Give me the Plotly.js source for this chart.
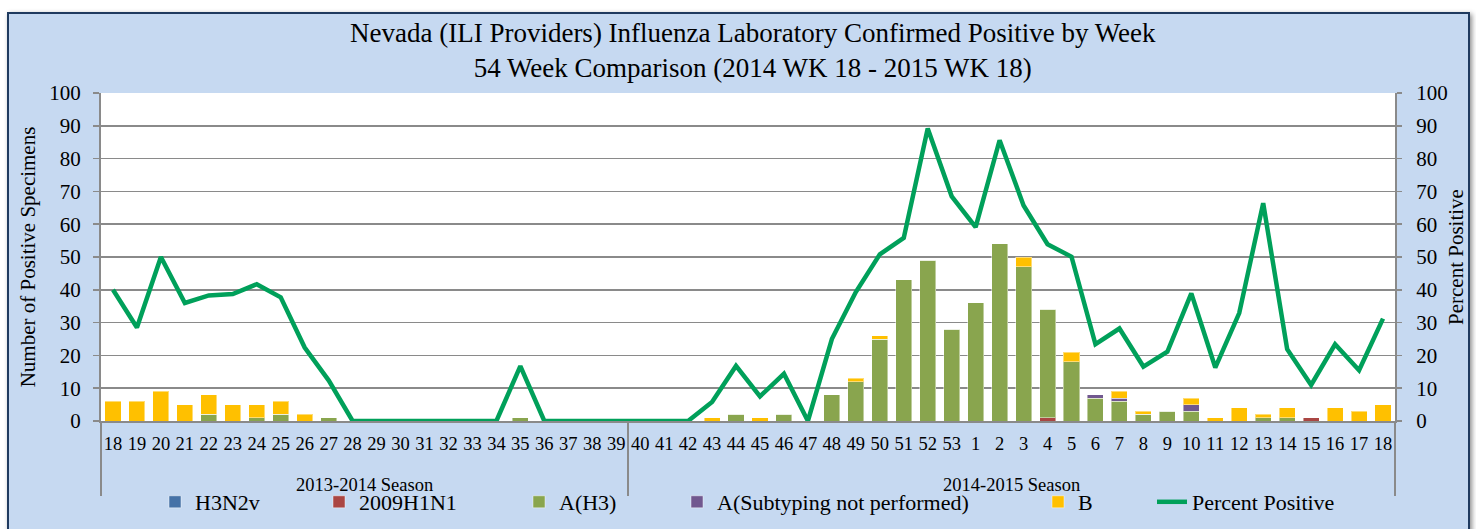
<!DOCTYPE html>
<html>
<head>
<meta charset="utf-8">
<script src="https://cdn.plot.ly/plotly-3.0.1.min.js"></script>
<style>
  html, body { margin: 0; padding: 0; background: #ffffff; overflow: hidden; }
  #frame { position: absolute; left: 7px; top: 12px; width: 1459px; height: 540px;
           background: #C6D9F1; border: 2px solid #1F3A5F;
           box-shadow: 2px 2px 5px rgba(0,0,0,0.45); }
  #chart { position: absolute; left: 0; top: 0; width: 1476px; height: 529px; }
</style>
</head>
<body>
<div id="frame"></div>
<div id="chart"></div>
<script>
// ---- data ----
const seasonLabels = ['2013-2014 Season', '2014-2015 Season'];
const weeksSeason1 = ['18','19','20','21','22','23','24','25','26','27','28','29','30','31','32','33','34','35','36','37','38','39'];
// the last week "18" of season 2 carries an invisible zero-width space so that it stays a distinct category
const weeksSeason2 = ['40','41','42','43','44','45','46','47','48','49','50','51','52','53','1','2','3','4','5','6','7','8','9','10','11','12','13','14','15','16','17','18\u200b'];

const h3n2v    = [0,0,0,0,0,0,0,0,0,0,0,0,0,0,0,0,0,0,0,0,0,0,
                  0,0,0,0,0,0,0,0,0,0,0,0,0,0,0,0,0,0,0,0,0,0,0,0,0,0,0,0,0,0,0,0];
const h1n1     = [0,0,0,0,0,0,0,0,0,0,0,0,0,0,0,0,0,0,0,0,0,0,
                  0,0,0,0,0,0,0,0,0,0,0,0,0,0,0,0,0,1,0,0,0,0,0,0,0,0,0,0,1,0,0,0];
const aH3      = [0,0,0,0,2,0,1,2,0,1,0,0,0,0,0,0,0,1,0,0,0,0,
                  0,0,0,0,2,0,2,0,8,12,25,43,49,28,36,54,47,33,18,7,6,2,3,3,0,0,1,1,0,0,0,0];
const aUnsub   = [0,0,0,0,0,0,0,0,0,0,0,0,0,0,0,0,0,0,0,0,0,0,
                  0,0,0,0,0,0,0,0,0,0,0,0,0,0,0,0,0,0,0,1,1,0,0,2,0,0,0,0,0,0,0,0];
const fluB     = [6,6,9,5,6,5,4,4,2,0,0,0,0,0,0,0,0,0,0,0,0,0,
                  0,0,0,1,0,1,0,0,0,1,1,0,0,0,0,0,3,0,3,0,2,1,0,2,1,4,1,3,0,4,3,5];
const pctPos   = [40,28.5,50,36,38.3,38.7,41.7,37.7,22.4,12.4,0,0,0,0,0,0,0,16.7,0,0,0,0,
                  0,0,0,5.8,16.8,7.5,14.4,0,25,39.3,50.8,55.8,89.2,68.5,59.1,85.6,65.7,53.9,50.1,23.4,28.2,16.6,21.1,38.9,16.3,32.9,66.4,21.9,11,23.4,15.5,31.2];

const weekAxis = weeksSeason1.concat(weeksSeason2);
// season labels are shown one line lower than the week numbers, as in the reference
const seasonAxis = weeksSeason1.map(() => '<br>' + seasonLabels[0])
  .concat(weeksSeason2.map(() => '<br>' + seasonLabels[1]));
const xCats = [seasonAxis, weekAxis];

const FONT = '"Liberation Serif", "Times New Roman", serif';
const barLine = { color: 'rgba(255,255,255,0.45)', width: 1 };

function barTrace(name, values, color, legendId) {
  return { type: 'bar', name: name, x: xCats, y: values, showlegend: true,
           marker: { color: color, line: barLine }, legend: legendId };
}

const traces = [
  barTrace('H3N2v', h3n2v, '#4572A7', 'legend'),
  barTrace('2009H1N1', h1n1, '#AA4643', 'legend2'),
  barTrace('A(H3)', aH3, '#89A54E', 'legend3'),
  barTrace('A(Subtyping not performed)', aUnsub, '#71588F', 'legend4'),
  barTrace('B', fluB, '#FFC000', 'legend5'),
  { type: 'scatter', mode: 'lines', name: 'Percent Positive', x: xCats, y: pctPos, showlegend: true,
    yaxis: 'y2', line: { color: '#00A05A', width: 4.5 }, legend: 'legend6' }
];

// legend text start positions (px) -> paper coords
const L = 101, W = 1294, T = 93, H = 328;
function lg(px) {
  return { x: (px - 40 - L) / W, xanchor: 'left', y: (421 - 502) / H, yanchor: 'middle',
           orientation: 'h', bgcolor: 'rgba(0,0,0,0)', borderwidth: 0, visible: true,
           font: { family: FONT, size: 22, color: '#000' } };
}

const gridC = '#8a8a8a';
const layout = {
  width: 1476, height: 529,
  margin: { l: 101, r: 81, t: 93, b: 108, pad: 0, autoexpand: false },
  paper_bgcolor: 'rgba(0,0,0,0)',
  plot_bgcolor: '#ffffff',
  font: { family: FONT, color: '#000' },
  showlegend: true,
  barmode: 'stack',
  bargap: 0.33,
  title: {
    text: 'Nevada (ILI Providers) Influenza Laboratory Confirmed Positive by Week<br>54 Week Comparison (2014 WK 18 - 2015 WK 18)',
    font: { family: FONT, size: 27, color: '#000' },
    xref: 'container', x: 0.51, xanchor: 'center',
    yref: 'container', y: 1 - 42 / 529, yanchor: 'top'
  },
  xaxis: {
    type: 'multicategory',
    automargin: false,
    tickangle: 0,
    ticklabelstandoff: 5,
    tickfont: { family: FONT, size: 18.5, color: '#000' },
    showdividers: true, dividercolor: gridC, dividerwidth: 2,
    ticks: '', showline: true, linecolor: gridC, linewidth: 2,
    showgrid: false, zeroline: false
  },
  yaxis: {
    automargin: false,
    range: [0, 100], dtick: 10, tick0: 0,
    showgrid: true, gridcolor: gridC, gridwidth: 1.5,
    showline: true, linecolor: gridC, linewidth: 2,
    ticks: 'outside', ticklen: 6, tickcolor: gridC, tickwidth: 1.5,
    ticklabelstandoff: 8,
    zeroline: false,
    tickfont: { family: FONT, size: 21, color: '#000' },
    title: { text: 'Number of Positive Specimens', standoff: 8,
             font: { family: FONT, size: 21, color: '#000' } }
  },
  yaxis2: {
    automargin: false,
    overlaying: 'y', side: 'right',
    range: [0, 100], dtick: 10, tick0: 0,
    showgrid: false, showline: true, linecolor: gridC, linewidth: 2,
    ticks: 'outside', ticklen: 5, tickcolor: gridC, tickwidth: 1.5,
    ticklabelstandoff: 10,
    zeroline: false,
    tickfont: { family: FONT, size: 21, color: '#000' },
    title: { text: 'Percent Positive', standoff: 2,
             font: { family: FONT, size: 21, color: '#000' } }
  },
  legend: lg(195),
  legend2: lg(359),
  legend3: lg(559),
  legend4: lg(717),
  legend5: lg(1078),
  legend6: lg(1192)
};

Plotly.newPlot('chart', traces, layout, { displayModeBar: false, staticPlot: true });
</script>
</body>
</html>
